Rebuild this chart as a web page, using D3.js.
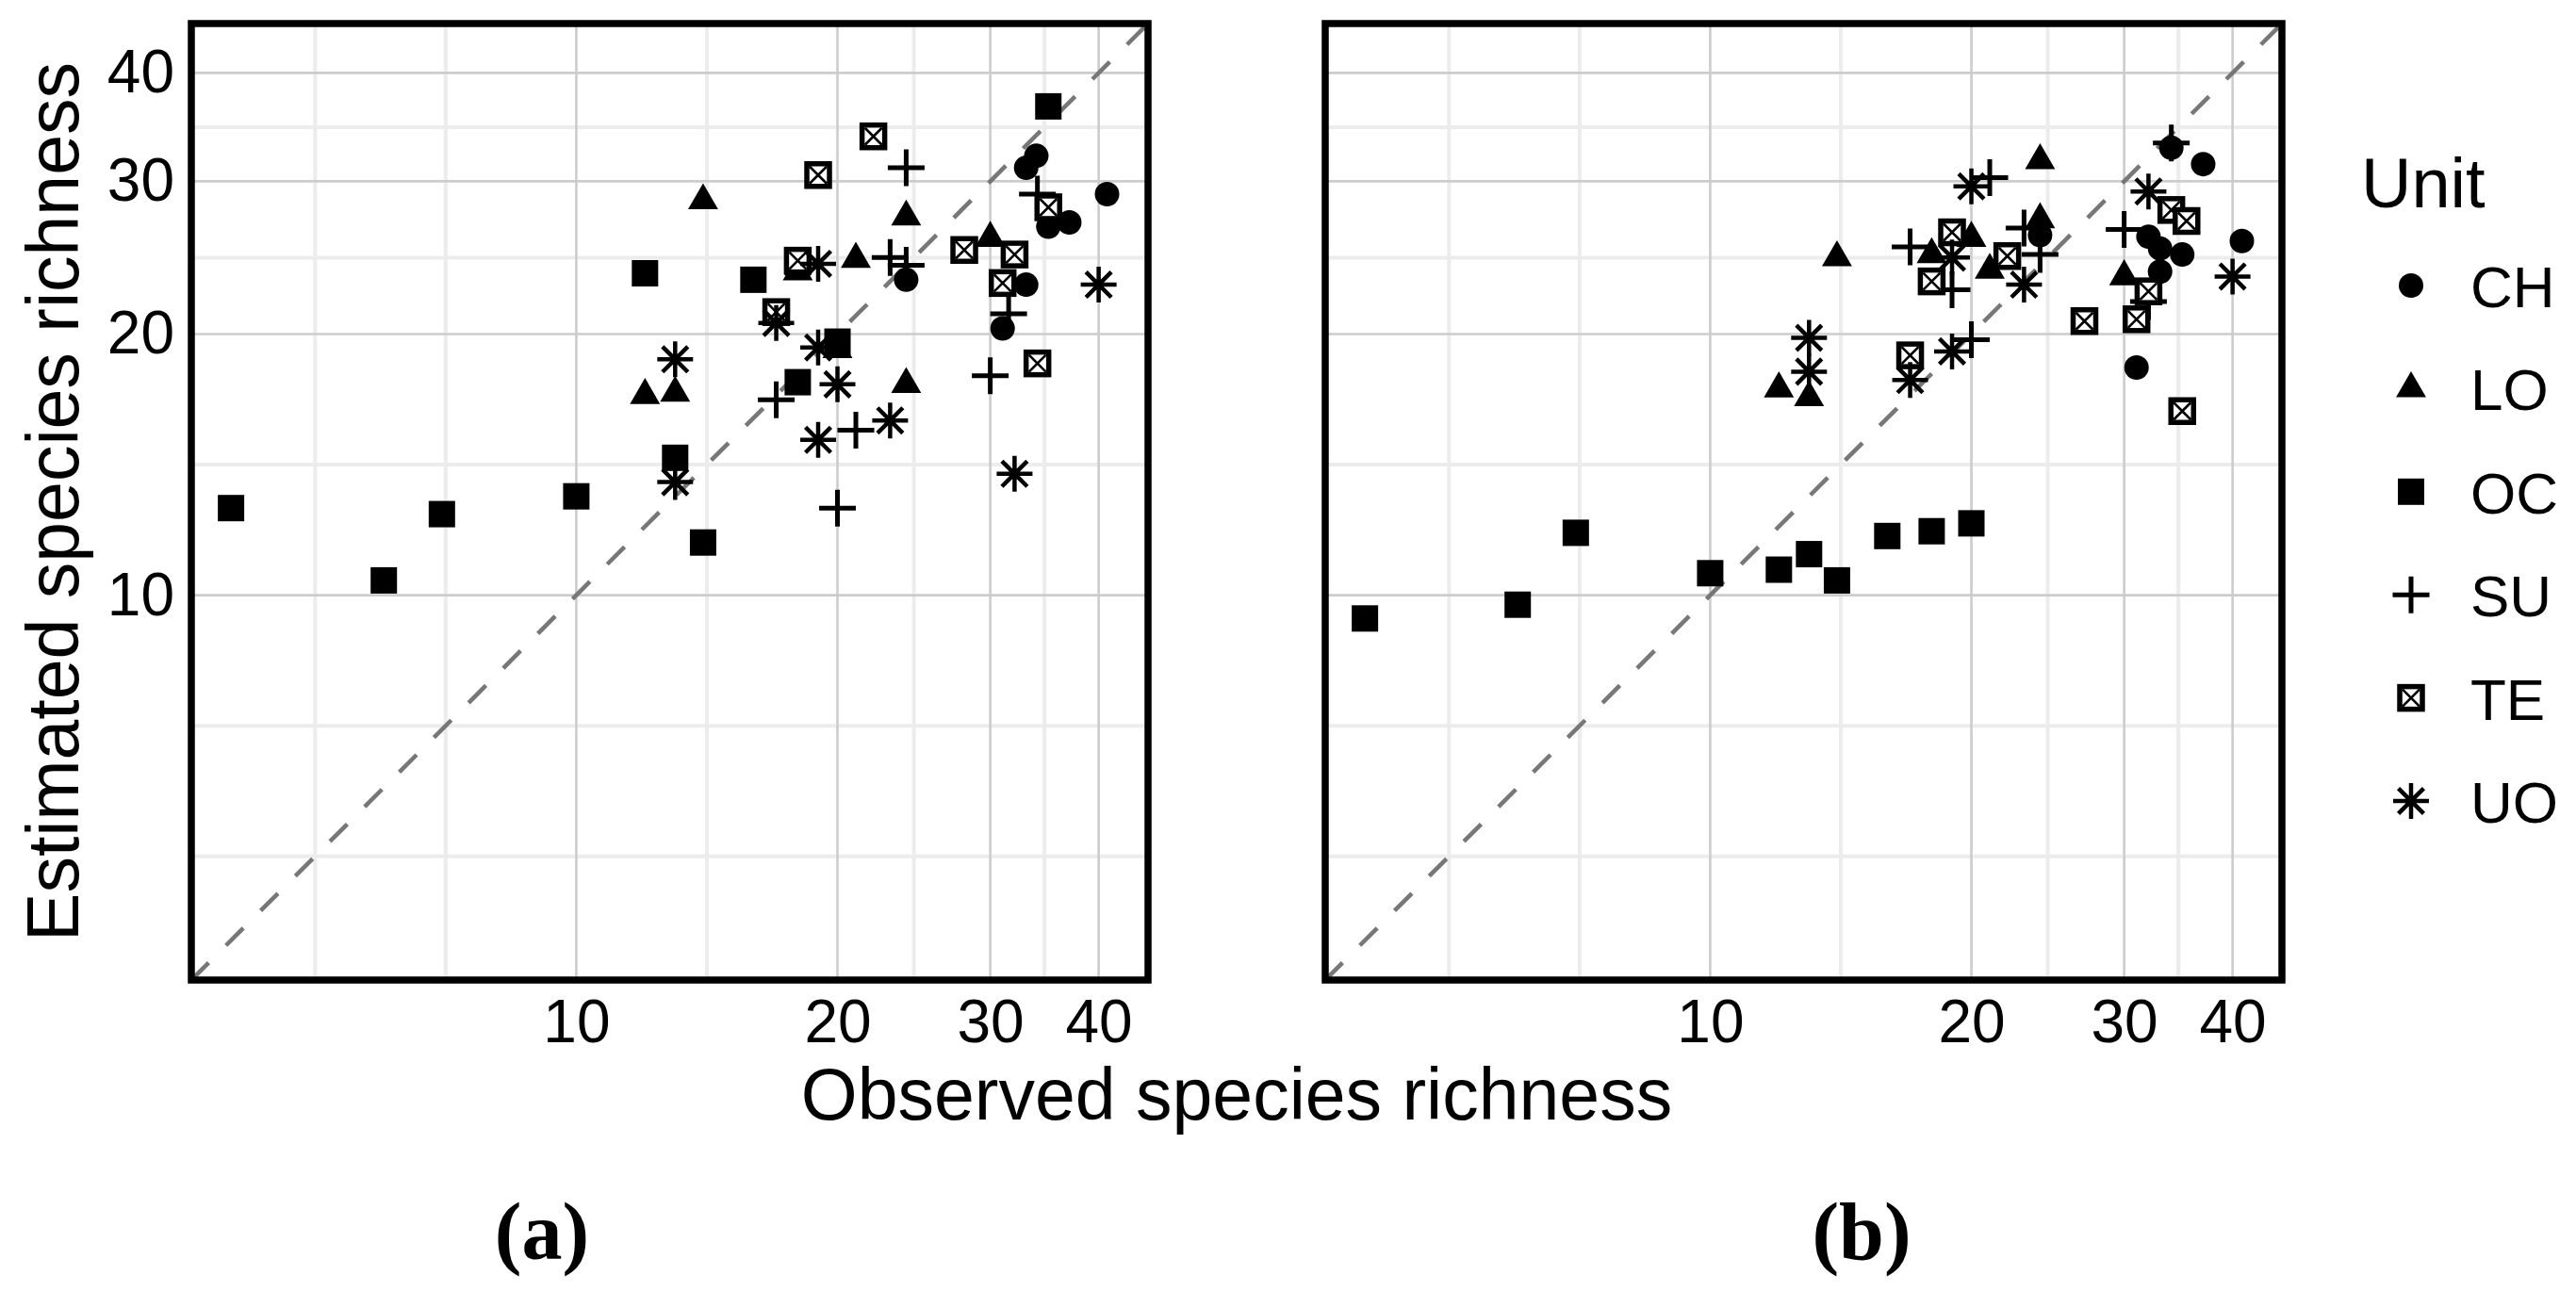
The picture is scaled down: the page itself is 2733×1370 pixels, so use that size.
<!DOCTYPE html>
<html>
<head>
<meta charset="utf-8">
<script src="https://cdn.jsdelivr.net/npm/d3@7"></script>
<style>
  body { margin: 0; background: #fff; }
  text { font-family: "Liberation Sans", Arial, Helvetica, sans-serif; fill: #000; }
</style>
</head>
<body>
<div id="chart"></div>
<script>
// units shown in the legend, in legend order
var units = ["CH", "LO", "OC", "SU", "TE", "UO"];
var majorTicks = [10, 20, 30, 40];
var panelLabels = ["(a)", "(b)"];

// panel (a): [observed, estimated]
var a_CH = [[33.9, 32.1], [33, 31.1], [40.9, 29.0], [35, 26.6], [37, 26.9], [24, 23.1], [33, 22.8], [31, 20.3]];
var a_LO = [[12, 17.0], [13, 17.1], [14, 28.5], [18, 23.6], [20, 19.2], [21, 24.4], [24, 27.3], [24, 17.5], [30, 25.8]];
var a_OC = [[4, 12.6], [6, 10.4], [7, 12.4], [10, 13.0], [12, 23.5], [13, 14.4], [14, 11.5], [16, 23.1], [18, 17.6], [18, 24.2], [20, 19.6], [35, 36.6]];
var a_SU = [[17, 16.8], [20, 12.6], [21, 15.5], [23, 24.5], [24, 24.0], [24, 31.1], [30, 17.9], [31.5, 21.1], [34, 29.0]];
var a_TE = [[22, 33.8], [19, 30.5], [35, 28.0], [28, 25.0], [32, 24.7], [31, 22.9], [34, 18.5], [17, 21.2], [18, 24.3]];
var a_UO = [[19, 24.1], [40, 22.8], [17, 20.6], [19, 19.3], [13, 18.7], [20, 17.5], [23, 15.9], [19, 15.1], [32, 13.8], [13, 13.5]];

// panel (b)
var b_CH = [[34, 32.8], [37, 31.4], [41, 25.6], [32, 25.9], [33, 25.1], [35, 24.7], [33, 23.6], [31, 18.3], [24, 26.0]];
var b_LO = [[24, 31.7], [24, 27.1], [20, 25.8], [18, 24.7], [21, 23.7], [30, 23.3], [14, 24.5], [12, 17.3], [13, 16.9]];
var b_OC = [[4, 9.4], [6, 9.75], [7, 11.8], [10, 10.6], [12, 10.7], [13, 11.15], [14, 10.4], [16, 11.7], [18, 11.85], [20, 12.1]];
var b_SU = [[34, 33.2], [21, 30.3], [17, 25.2], [23, 26.5], [24, 24.7], [19, 22.5], [30, 26.4], [32, 21.8], [20, 19.7]];
var b_TE = [[34, 27.8], [35.4, 27.0], [19, 26.2], [22, 24.6], [18, 23.0], [32, 22.4], [27, 20.7], [31, 20.8], [17, 18.9], [35, 16.3]];
var b_UO = [[32, 29.2], [20, 29.6], [19, 24.5], [23, 22.8], [40, 23.3], [13, 19.8], [13, 18.1], [19, 19.1], [17, 17.7]];

var panels = [
  { CH: a_CH, LO: a_LO, OC: a_OC, SU: a_SU, TE: a_TE, UO: a_UO },
  { CH: b_CH, LO: b_LO, OC: b_OC, SU: b_SU, TE: b_TE, UO: b_UO }
];

var width = 2733;
var height = 1370;
var panelSize = 1015;
var panelTop = 25;
var panelLefts = [203, 1406];

var svg = d3
  .select("#chart")
  .append("svg")
  .attr("width", width)
  .attr("height", height)
  .style("display", "block")
  .style("background", "#fff");

var x = d3.scaleLog().domain([3.6, 45.6]).range([0, panelSize]);
var y = d3.scaleLog().domain([3.6, 45.6]).range([panelSize, 0]);

// minor breaks sit half way (log space) between the major ones, ggplot style
var ext = [majorTicks[0] * majorTicks[0] / majorTicks[1]].concat(majorTicks);
var minorTicks = [ext[0]];
for (var i = 1; i < ext.length; i++) {
  minorTicks.push(Math.sqrt(ext[i - 1] * ext[i]));
}

// marker paths, drawn around 0,0
function plusPath(h) {
  return "M" + (-h) + ",0H" + h + "M0," + (-h) + "V" + h;
}
function starPath(h) {
  var k = h / Math.SQRT2;
  return plusPath(h) + "M" + (-k) + "," + (-k) + "L" + k + "," + k + "M" + (-k) + "," + k + "L" + k + "," + (-k);
}

function drawMark(g, unit) {
  if (unit === "CH") {
    g.append("path").attr("d", d3.symbol(d3.symbolCircle, Math.PI * 13 * 13)()).attr("fill", "#000");
  } else if (unit === "LO") {
    g.append("path").attr("d", d3.symbol(d3.symbolTriangle, 440)()).attr("fill", "#000");
  } else if (unit === "OC") {
    g.append("path").attr("d", d3.symbol(d3.symbolSquare, 28 * 28)()).attr("fill", "#000");
  } else if (unit === "SU") {
    g.append("path").attr("d", plusPath(19.5)).attr("stroke", "#000").attr("stroke-width", 5).attr("fill", "none");
  } else if (unit === "TE") {
    g.append("rect")
      .attr("x", -12).attr("y", -12).attr("width", 24).attr("height", 24)
      .attr("fill", "#fff").attr("stroke", "#000").attr("stroke-width", 5.5);
    g.append("path")
      .attr("d", "M-9,-9L9,9M-9,9L9,-9")
      .attr("stroke", "#000").attr("stroke-width", 2.6);
  } else {
    g.append("path").attr("d", starPath(19)).attr("stroke", "#000").attr("stroke-width", 4.5).attr("fill", "none");
  }
}

svg.append("defs")
  .append("clipPath")
  .attr("id", "panelClip")
  .append("rect")
  .attr("width", panelSize)
  .attr("height", panelSize);

panels.forEach(function(pdata, p) {
  var g = svg.append("g")
    .attr("transform", "translate(" + panelLefts[p] + "," + panelTop + ")");

  var inner = g.append("g").attr("clip-path", "url(#panelClip)");

  // minor grid
  inner.selectAll(".minorX")
    .data(minorTicks)
    .enter()
    .append("line")
    .attr("x1", function(d) { return x(d); })
    .attr("x2", function(d) { return x(d); })
    .attr("y1", 0)
    .attr("y2", panelSize)
    .attr("stroke", "#ececec")
    .attr("stroke-width", 4);

  inner.selectAll(".minorY")
    .data(minorTicks)
    .enter()
    .append("line")
    .attr("y1", function(d) { return y(d); })
    .attr("y2", function(d) { return y(d); })
    .attr("x1", 0)
    .attr("x2", panelSize)
    .attr("stroke", "#ececec")
    .attr("stroke-width", 4);

  // major grid
  inner.selectAll(".majorX")
    .data(majorTicks)
    .enter()
    .append("line")
    .attr("x1", function(d) { return x(d); })
    .attr("x2", function(d) { return x(d); })
    .attr("y1", 0)
    .attr("y2", panelSize)
    .attr("stroke", "#cccccc")
    .attr("stroke-width", 2.6);

  inner.selectAll(".majorY")
    .data(majorTicks)
    .enter()
    .append("line")
    .attr("y1", function(d) { return y(d); })
    .attr("y2", function(d) { return y(d); })
    .attr("x1", 0)
    .attr("x2", panelSize)
    .attr("stroke", "#cccccc")
    .attr("stroke-width", 2.6);

  // 1:1 line
  var dom = x.domain();
  inner.append("line")
    .attr("x1", x(dom[0]))
    .attr("y1", y(dom[0]))
    .attr("x2", x(dom[1]))
    .attr("y2", y(dom[1]))
    .attr("stroke", "#777")
    .attr("stroke-width", 4.5)
    .attr("stroke-dasharray", "26,26");

  units.forEach(function(u) {
    inner.selectAll(".pt" + u)
      .data(pdata[u])
      .enter()
      .append("g")
      .attr("transform", function(d) {
        return "translate(" + x(d[0]) + "," + y(d[1]) + ")";
      })
      .each(function() { drawMark(d3.select(this), u); });
  });

  // frame
  g.append("rect")
    .attr("width", panelSize)
    .attr("height", panelSize)
    .attr("fill", "none")
    .attr("stroke", "#000")
    .attr("stroke-width", 7.5);

  var xAxis = g.append("g")
    .attr("transform", "translate(0," + panelSize + ")")
    .call(d3.axisBottom(x).tickValues(majorTicks).tickFormat(d3.format("d")).tickSize(0).tickPadding(21));
  xAxis.select(".domain").remove();
  xAxis.selectAll("text").style("font-size", "64px").attr("fill", "#000");

  if (p === 0) {
    var yAxis = g.append("g")
      .call(d3.axisLeft(y).tickValues(majorTicks).tickFormat(d3.format("d")).tickSize(0).tickPadding(18));
    yAxis.select(".domain").remove();
    yAxis.selectAll("text").style("font-size", "64px").attr("fill", "#000");
  }

  // panel caption
  svg.append("text")
    .attr("x", panelLefts[p] + [372, 569][p])
    .attr("y", 1336)
    .attr("text-anchor", "middle")
    .style("font-family", "'Liberation Serif', 'Times New Roman', serif")
    .style("font-weight", "bold")
    .style("font-size", "86px")
    .text(panelLabels[p]);
});

// axis titles
svg.append("text")
  .attr("x", (panelLefts[0] + panelLefts[1] + panelSize) / 2)
  .attr("y", 1188)
  .attr("text-anchor", "middle")
  .style("font-size", "77px")
  .text("Observed species richness");

svg.append("text")
  .attr("transform", "translate(83," + (panelTop + panelSize / 2) + ") rotate(-90)")
  .attr("text-anchor", "middle")
  .style("font-size", "77px")
  .text("Estimated species richness");

// legend
var legend = svg.append("g");
legend.append("text")
  .attr("x", 2505)
  .attr("y", 220)
  .style("font-size", "74px")
  .text("Unit");

var item = legend.selectAll(".item")
  .data(units)
  .enter()
  .append("g")
  .attr("transform", function(d, i) {
    return "translate(2558," + (303 + i * 109.4) + ")";
  });

item.each(function(d) { drawMark(d3.select(this), d); });

item.append("text")
  .attr("x", 63)
  .attr("y", 23)
  .style("font-size", "62px")
  .text(function(d) { return d; });
</script>
</body>
</html>
